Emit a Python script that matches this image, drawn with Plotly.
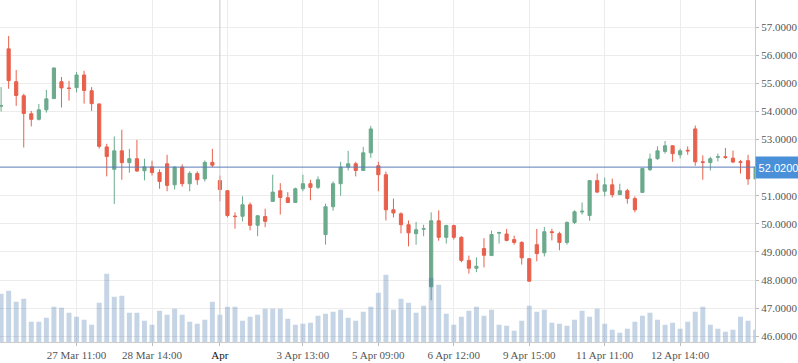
import plotly.graph_objects as go

# ---- data ----
idx = list(range(101))
opens = [54.19, 56.23, 55.06, 54.56, 53.92, 53.72, 54.06, 54.46, 55.06, 54.84,
         54.85, 55.30, 54.74, 54.27, 52.74, 51.94, 52.60, 52.18, 52.32, 51.89,
         52.03, 51.83, 52.14, 51.39, 52.02, 51.43, 51.79, 51.60, 52.19, 51.54,
         51.18, 50.28, 50.27, 50.68, 49.95, 50.26, 50.80, 51.18, 50.93, 50.76,
         51.25, 51.43, 51.30, 49.62, 50.61, 51.43, 52.02, 52.14, 51.90, 52.53,
         52.07, 51.75, 50.50, 50.36, 49.97, 49.65, 49.81, 47.76, 50.11, 49.52,
         49.94, 49.52, 48.70, 48.42, 49.12, 48.87, 49.67, 49.64, 49.44, 49.34,
         48.76, 49.26, 48.97, 49.72, 49.65, 49.34, 50.05, 50.42, 50.30, 51.54,
         51.16, 51.39, 51.04, 51.18, 50.90, 51.12, 51.93, 52.32, 52.58, 52.78,
         52.46, 52.62, 53.38, 52.21, 52.18, 52.37, 52.39, 52.34, 52.21, 52.25,
         51.60]
highs = [54.87, 56.69, 55.48, 54.63, 54.02, 54.27, 54.77, 55.56, 55.23, 55.09,
         55.41, 55.45, 54.87, 54.28, 52.85, 53.11, 53.35, 52.67, 52.99, 52.32,
         52.25, 51.94, 52.46, 52.05, 52.12, 51.87, 51.87, 52.26, 52.67, 51.72,
         51.20, 50.41, 50.98, 50.76, 50.30, 50.54, 51.75, 51.45, 51.13, 51.29,
         51.75, 51.57, 51.69, 50.72, 51.51, 52.21, 52.60, 52.21, 52.74, 53.49,
         52.21, 51.86, 50.90, 50.41, 50.12, 50.07, 49.97, 50.41, 50.48, 49.97,
         49.97, 49.56, 48.87, 48.81, 49.49, 49.76, 49.72, 49.82, 49.58, 49.38,
         48.77, 49.82, 49.89, 49.83, 49.72, 50.09, 50.48, 50.76, 51.55, 51.79,
         51.65, 51.61, 51.43, 51.25, 50.98, 51.98, 52.50, 52.76, 52.95, 52.79,
         52.68, 52.76, 53.50, 52.44, 52.39, 52.50, 52.70, 52.61, 52.28, 52.46,
         52.10]
lows = [54.00, 54.81, 54.20, 52.72, 53.47, 53.68, 53.96, 54.45, 54.14, 54.39,
        54.68, 54.28, 54.02, 52.68, 51.69, 50.71, 51.57, 51.82, 51.85, 51.55,
        51.72, 51.25, 51.16, 51.22, 51.33, 51.16, 51.39, 51.51, 52.02, 50.80,
        50.23, 49.83, 50.09, 49.77, 49.56, 49.88, 50.79, 50.33, 50.75, 50.75,
        51.16, 50.84, 51.24, 49.26, 50.47, 51.00, 51.90, 51.69, 51.88, 52.35,
        51.16, 50.12, 50.23, 49.66, 49.20, 49.26, 49.56, 47.28, 49.40, 49.30,
        49.44, 48.63, 48.23, 48.28, 48.45, 48.86, 49.30, 49.38, 49.26, 48.55,
        47.95, 48.67, 48.84, 49.41, 49.06, 49.26, 49.99, 50.33, 50.11, 51.10,
        50.98, 50.94, 51.03, 50.72, 50.41, 51.11, 51.88, 52.28, 52.50, 52.21,
        52.33, 52.46, 52.07, 51.57, 51.90, 52.22, 52.31, 52.17, 51.79, 51.39,
        51.55]
closes = [54.21, 55.10, 54.57, 53.93, 53.72, 54.06, 54.45, 55.55, 54.84, 54.82,
          55.30, 54.75, 54.28, 52.76, 52.40, 52.60, 52.18, 52.32, 51.88, 52.03,
          51.83, 51.51, 51.37, 52.02, 51.43, 51.80, 51.57, 52.19, 52.09, 51.22,
          50.30, 50.26, 50.68, 49.95, 50.29, 50.09, 51.13, 50.94, 50.76, 51.25,
          51.43, 51.30, 51.57, 50.61, 51.43, 52.02, 52.14, 51.90, 52.53, 53.38,
          51.75, 50.50, 50.39, 49.97, 49.68, 49.79, 49.83, 50.11, 49.52, 49.94,
          49.52, 48.70, 48.42, 48.49, 48.88, 49.62, 49.69, 49.41, 49.34, 48.79,
          47.96, 48.94, 49.72, 49.69, 49.34, 50.05, 50.43, 50.45, 51.54, 51.13,
          51.39, 51.04, 51.18, 50.90, 50.50, 51.97, 52.31, 52.60, 52.78, 52.50,
          52.60, 52.60, 52.21, 52.19, 52.32, 52.39, 52.37, 52.20, 52.19, 51.60,
          52.02]
volumes = [483, 513, 403, 433, 203, 203, 243, 353, 343, 293,
           253, 223, 173, 393, 683, 453, 463, 293, 293, 213,
           173, 313, 273, 333, 273, 203, 183, 223, 403, 273,
           353, 353, 213, 253, 273, 333, 333, 333, 233, 173,
           183, 193, 263, 283, 303, 323, 243, 213, 303, 353,
           493, 673, 323, 433, 393, 293, 363, 643, 573, 283,
           173, 253, 313, 353, 263, 323, 173, 163, 113, 213,
           363, 303, 323, 193, 183, 163, 223, 313, 253, 333,
           183, 123, 93, 133, 203, 263, 293, 223, 173, 193,
           133, 203, 303, 353, 173, 133, 103, 123, 253, 213,
           123]
tick_pos = [10, 20, 29, 40, 50, 60, 70, 80, 90]
tick_labels = ["27 Mar 11:00", "28 Mar 14:00",
               '<span style="color:#111">Apr</span>',
               "3 Apr 13:00", "5 Apr 09:00", "6 Apr 12:00", "9 Apr 15:00",
               "11 Apr 11:00", "12 Apr 14:00"]
grid_pos = [10, 20, 30, 40, 50, 60, 70, 80, 90]
price_ticks = [46, 47, 48, 49, 50, 51, 53, 54, 55, 56, 57]  # 52 is covered by the price label
crosshair_pos = 29
last_price = 52.02

UP = "#6BAA8D"
DOWN = "#E8604C"
SERIF = "Liberation Serif, Times New Roman, serif"

fig = go.Figure()
fig.add_trace(go.Candlestick(
    x=idx, open=opens, high=highs, low=lows, close=closes,
    increasing=dict(line=dict(color=UP, width=1), fillcolor=UP),
    decreasing=dict(line=dict(color=DOWN, width=1), fillcolor=DOWN),
    whiskerwidth=0, hoverinfo="none", showlegend=False,
))
fig.add_trace(go.Bar(
    x=idx, y=volumes, yaxis="y2", width=0.66,
    marker=dict(color="rgba(62,115,172,0.30)", line=dict(width=0)),
    hoverinfo="none", showlegend=False,
))

fig.add_shape(type="line", xref="x", yref="paper", x0=crosshair_pos, x1=crosshair_pos,
              y0=0, y1=1, line=dict(color="#c8c8c8", width=1), layer="above")
fig.add_shape(type="line", xref="paper", yref="y", x0=0, x1=1, y0=last_price, y1=last_price,
              line=dict(color="#5a7bb8", width=1), layer="above")
fig.add_annotation(xref="paper", yref="y", x=1, y=last_price, xanchor="left", yanchor="middle",
                   text=f"{last_price:.4f}", showarrow=False,
                   width=41, height=17, align="center", valign="middle",
                   font=dict(family="Liberation Sans, Arial, sans-serif", size=11, color="white"),
                   bgcolor="#4a90d9", borderpad=2)

fig.update_layout(
    width=798, height=363,
    margin=dict(l=0, r=43, t=0, b=21, autoexpand=False),
    paper_bgcolor="white", plot_bgcolor="white",
    showlegend=False, boxgap=0.4,
    bargap=0.34,
    xaxis=dict(
        range=[-0.146, 99.92], rangeslider=dict(visible=False),
        tickmode="array", tickvals=tick_pos, ticktext=tick_labels,
        showgrid=False, zeroline=False,
        ticks="outside", ticklen=3, tickcolor="#bbbbbb",
        showline=True, linecolor="#cccccc", linewidth=1,
        tickfont=dict(family=SERIF, size=11, color="#555555"),
        minor=dict(tickmode="array", tickvals=grid_pos, showgrid=True,
                   gridcolor="#ececec", gridwidth=1, ticks=""),
    ),
    yaxis=dict(
        side="right", range=[45.794, 57.97],
        tickmode="array", tickvals=price_ticks, tickformat=".4f",
        showgrid=True, gridcolor="#ececec", zeroline=False,
        ticks="outside", ticklen=3, tickcolor="#bbbbbb",
        showline=True, linecolor="#cccccc", linewidth=1,
        tickfont=dict(family=SERIF, size=11, color="#555555"),
    ),
    yaxis2=dict(overlaying="y", range=[0, 3425], visible=False),
)

fig.write_html("out.html", config={"displayModeBar": False},
               post_script="document.body.style.margin='0';document.body.style.overflow='hidden';")
